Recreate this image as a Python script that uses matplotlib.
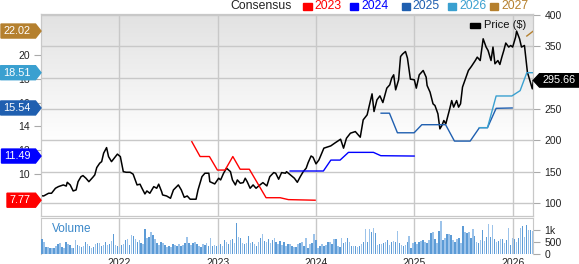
import numpy as np
import matplotlib
matplotlib.use("Agg")
import matplotlib.pyplot as plt
from matplotlib.patches import Polygon, Rectangle
from matplotlib.transforms import IdentityTransform
from matplotlib.colors import LinearSegmentedColormap

plt.rcParams['font.family'] = ['Liberation Sans', 'DejaVu Sans']

# ---------------- data ----------------
price_t = [2021.20, 2021.23, 2021.28, 2021.31, 2021.35, 2021.38, 2021.43, 2021.46, 2021.47, 2021.50,
           2021.53, 2021.56, 2021.58, 2021.61, 2021.63, 2021.66, 2021.69, 2021.73, 2021.75, 2021.77,
           2021.80, 2021.82, 2021.84, 2021.87, 2021.89, 2021.92, 2021.96, 2021.98, 2022.01, 2022.04,
           2022.07, 2022.11, 2022.14, 2022.18, 2022.21, 2022.23, 2022.26, 2022.28, 2022.31, 2022.35,
           2022.38, 2022.40, 2022.43, 2022.44, 2022.48, 2022.52, 2022.55, 2022.60, 2022.63, 2022.66,
           2022.69, 2022.72, 2022.78, 2022.80, 2022.84, 2022.87, 2022.91, 2022.92, 2022.97, 2023.01,
           2023.03, 2023.06, 2023.09, 2023.13, 2023.15, 2023.18, 2023.20, 2023.23, 2023.26, 2023.28,
           2023.30, 2023.33, 2023.36, 2023.39, 2023.43, 2023.46, 2023.50, 2023.53, 2023.57, 2023.59,
           2023.62, 2023.65, 2023.69, 2023.70, 2023.74, 2023.78, 2023.81, 2023.84, 2023.87, 2023.90,
           2023.92, 2023.95, 2023.97, 2024.00, 2024.03, 2024.08, 2024.11, 2024.15, 2024.19, 2024.25,
           2024.28, 2024.31, 2024.35, 2024.40, 2024.45, 2024.48, 2024.52, 2024.54, 2024.57, 2024.59,
           2024.62, 2024.65, 2024.68, 2024.72, 2024.75, 2024.77, 2024.79, 2024.81, 2024.84, 2024.86,
           2024.88, 2024.91, 2024.93, 2024.96, 2025.00, 2025.02, 2025.05, 2025.09, 2025.12, 2025.13,
           2025.16, 2025.19, 2025.21, 2025.24, 2025.26, 2025.28, 2025.30, 2025.32, 2025.36, 2025.38,
           2025.40, 2025.43, 2025.45, 2025.47, 2025.49, 2025.52, 2025.55, 2025.58, 2025.62, 2025.64,
           2025.67, 2025.70, 2025.73, 2025.75, 2025.78, 2025.80, 2025.82, 2025.85, 2025.87, 2025.89,
           2025.91, 2025.93, 2025.96, 2025.98, 2026.00, 2026.03, 2026.04, 2026.07, 2026.09, 2026.12,
           2026.14, 2026.15, 2026.17, 2026.20, 2026.21]
price_v = [111.7, 111.2, 115.5, 115.5, 123.5, 126.1, 128.8, 127.0, 133.0, 128.8,
           119.2, 120.8, 134.0, 142.0, 143.7, 139.5, 134.0, 141.0, 144.8, 156.5,
           163.5, 166.0, 179.5, 188.4, 174.0, 166.0, 174.0, 178.0, 174.0, 150.0,
           149.0, 149.0, 146.0, 128.8, 130.0, 123.5, 114.4, 119.2, 115.5, 126.1,
           123.5, 130.0, 118.1, 112.8, 111.2, 107.5, 120.8, 128.8, 120.8, 109.0,
           111.2, 106.0, 106.0, 120.8, 142.0, 147.5, 147.5, 134.0, 130.4, 139.5,
           136.8, 147.5, 155.5, 150.0, 136.8, 128.8, 136.8, 131.5, 132.5, 139.5,
           134.0, 123.5, 128.8, 123.5, 128.8, 132.5, 127.2, 142.0, 148.5, 147.5,
           137.9, 148.5, 147.5, 150.0, 144.8, 139.5, 133.0, 142.0, 150.0, 155.5,
           164.4, 175.0, 173.0, 162.4, 168.8, 187.5, 189.0, 191.1, 195.5, 201.8,
           187.5, 203.4, 211.4, 214.0, 205.0, 232.7, 240.7, 254.0, 274.2, 246.0,
           264.7, 271.0, 260.3, 283.3, 288.6, 299.3, 304.6, 280.6, 296.6, 333.8,
           337.7, 341.8, 331.3, 297.7, 296.6, 283.3, 304.6, 311.5, 300.9, 287.5,
           276.9, 258.3, 255.5, 242.3, 218.3, 223.6, 231.6, 226.3, 250.3, 263.5,
           253.0, 263.5, 253.0, 258.3, 285.0, 298.2, 311.5, 317.9, 327.4, 332.8,
           327.4, 362.1, 348.9, 343.4, 327.4, 348.9, 322.2, 327.4, 321.1, 332.8,
           343.4, 355.3, 348.9, 351.4, 348.9, 364.8, 374.4, 362.1, 348.9, 351.4,
           322.2, 308.9, 298.2, 282.2, 295.66]

eps23_t = [2022.737, 2022.821, 2022.916, 2022.997, 2023.075, 2023.154, 2023.228, 2023.322,
           2023.492, 2023.635, 2023.719, 2023.991]
eps23_v = [12.70, 11.45, 11.45, 10.31, 10.31, 11.45, 10.38, 10.38, 7.98, 7.98, 7.82, 7.77]

eps24_t = [2023.737, 2024.075, 2024.151, 2024.245, 2024.330, 2024.584, 2024.659, 2024.998]
eps24_v = [10.23, 10.23, 11.15, 11.15, 11.80, 11.80, 11.52, 11.49]

eps25_t = [2024.662, 2024.747, 2024.828, 2024.998, 2025.076, 2025.318, 2025.408, 2025.568,
           2025.662, 2025.744, 2025.832, 2025.995]
eps25_v = [15.10, 15.10, 13.45, 13.45, 14.13, 14.13, 12.75, 12.75, 13.88, 13.88, 15.51, 15.54]

eps26_t = [2025.662, 2025.744, 2025.832, 2025.992, 2026.076, 2026.144, 2026.21]
eps26_v = [13.88, 13.88, 16.55, 16.55, 17.00, 18.51, 18.51]

eps27_t = [2026.144, 2026.21]
eps27_v = [21.60, 22.02]

volume = [607, 494, 282, 254, 212, 212, 240, 325, 381, 424, 282, 240, 494, 381, 353,
          212, 212, 565, 353, 325, 282, 325, 494, 381, 325, 212, 282, 381, 424, 424,
          325, 353, 466, 353, 381, 522, 805, 353, 325, 282, 353, 381, 565, 607, 353,
          777, 748, 607, 466, 565, 424, 381, 1031, 635, 706, 890, 777, 607, 424, 353,
          494, 424, 353, 282, 325, 282, 381, 353, 325, 381, 325, 353, 424, 706, 424,
          353, 424, 494, 381, 325, 282, 381, 353, 424, 325, 635, 325, 353, 325, 353,
          381, 325, 565, 494, 381, 565, 607, 424, 1271, 706, 664, 424, 381, 424, 748,
          424, 494, 381, 325, 494, 635, 805, 522, 466, 607, 424, 565, 635, 494, 381,
          522, 353, 494, 325, 381,
          381, 325, 282, 282, 381, 424, 466, 325, 635, 212, 381, 424, 805, 565, 240,
          325, 381, 325, 353, 466, 494, 381, 607, 607, 325, 282, 664, 424, 466, 635,
          494, 325, 325, 325, 282, 325, 381, 466, 1031, 494, 1031, 918, 1087, 847, 353,
          381, 381, 424, 494, 565, 353, 466, 522, 494, 946, 424, 353, 325, 353, 466,
          748, 212, 424, 494, 381, 494, 522, 565, 494, 424, 565, 847, 918, 607, 424,
          946, 1370, 565, 635, 805, 805, 777, 565, 494, 607, 664, 424, 1172, 890, 847,
          890, 635, 1031, 748, 494, 424, 565, 988, 522, 706, 1228, 706, 1200, 607, 494,
          522, 607, 607, 424, 565, 1087, 353, 664, 607, 494, 635, 1059, 1172, 706, 1200,
          988, 988, 946]

years = [2022, 2023, 2024, 2025, 2026]
price_ticks = [100, 150, 200, 250, 300, 350, 400]
eps_ticks = [10, 12, 14, 16, 18, 20, 22]
vol_ticks = [0, 500, 1000]
vol_labels = ['0', '500', '1k']
legend_years = ['2023', '2024', '2025', '2026', '2027']

# ---------------- style ----------------
c23, c24, c25, c26, c27 = '#ff0000', '#0000ff', '#1f5fb0', '#3aa0d0', '#b5802e'
grid_c = '#c8c8c8'
W, H = 579, 264
fig = plt.figure(figsize=(W / 100, H / 100), dpi=100)


def fx(px):
    return px / W


def fy(py):
    return 1 - py / H


L, R = 41, 533.3
ax = fig.add_axes([fx(L), fy(216), fx(R - L), (216 - 14.3) / H])
axv = fig.add_axes([fx(L), fy(253.5), fx(R - L), (253.5 - 217.5) / H], sharex=ax)

xlim = (2021.203, 2026.21)

# gradient background
grad = np.clip((np.linspace(0, 1, 200) - 0.35) / 0.65, 0, 1).reshape(-1, 1)
cmap = LinearSegmentedColormap.from_list('g', ['#ffffff', '#e2e2e2'])
ax.imshow(grad, extent=[0, 1, 0, 1], transform=ax.transAxes, aspect='auto',
          cmap=cmap, origin='lower', zorder=0, interpolation='bilinear')

# EPS on a twin axis (left side), price on the right side
ax2 = ax.twinx()

ax.plot(price_t, price_v, color='black', lw=1.1, zorder=5)
ax.set_xlim(*xlim)
ax.set_ylim(79.2, 401.2)
ax.yaxis.tick_right()
ax.yaxis.set_label_position('right')
ax.set_yticks(price_ticks)
ax.set_xticks(years)
ax.grid(True, color=grid_c, lw=1, zorder=1)
ax.set_axisbelow(True)
ax.tick_params(axis='y', which='both', left=False, labelleft=False, right=True, labelright=True,
               length=5, color='#aaaaaa', labelsize=7.5, pad=3, labelcolor='#222222')
ax.tick_params(axis='x', length=0, labelbottom=False)
for s in ax.spines.values():
    s.set_color(grid_c)

ax2.plot(eps23_t, eps23_v, color=c23, lw=1.0)
ax2.plot(eps24_t, eps24_v, color=c24, lw=1.0)
ax2.plot(eps25_t, eps25_v, color=c25, lw=1.0)
ax2.plot(eps26_t, eps26_v, color=c26, lw=1.0)
ax2.plot(eps27_t, eps27_v, color=c27, lw=1.0)
ax2.set_ylim(6.44, 23.43)
ax2.set_xlim(*xlim)
ax2.set_yticks(eps_ticks)
ax2.tick_params(axis='y', which='both', left=True, labelleft=True, right=False, labelright=False,
                length=5, color='#aaaaaa', labelsize=7.5, pad=3, labelcolor='#222222')
for s in ax2.spines.values():
    s.set_color(grid_c)

# volume
n = len(volume)
vt = np.linspace(xlim[0] + 0.01, xlim[1] - 0.01, n)
step = vt[1] - vt[0]
vcols = ['#5c9bd6' if i % 2 == 0 else '#9cc3ea' for i in range(n)]
axv.bar(vt, volume, width=step * 0.75, color=vcols, zorder=3)
axv.set_ylim(0, 1517)
axv.set_xlim(*xlim)
axv.yaxis.tick_right()
axv.set_yticks(vol_ticks)
axv.set_yticklabels(vol_labels)
axv.set_xticks(years)
axv.set_xticklabels([str(y) for y in years])
axv.grid(True, axis='x', color=grid_c, lw=1, zorder=1)
axv.set_axisbelow(True)
axv.tick_params(axis='y', length=5, color='#aaaaaa', labelsize=7.5, pad=3, labelcolor='#222222')
axv.tick_params(axis='x', length=0, labelsize=7.5, pad=3, labelcolor='#222222')
for k, s in axv.spines.items():
    s.set_color(grid_c)
axv.spines['bottom'].set_visible(False)
fig.text(fx(51.5), fy(229), 'Volume', color='#3b88c9', fontsize=8.5, va='center', ha='left')

# top legend
fig.text(fx(230), fy(6), 'Consensus', fontsize=8.8, color='#222222', va='center', ha='left')
leg_cols = [c23, c24, c25, c26, c27]
sq_x = [303.3, 350, 401.7, 448, 490]
for xs, col, lab in zip(sq_x, leg_cols, legend_years):
    fig.patches.append(Rectangle((fx(xs), fy(9.5)), 8.3 / W, 7 / H, color=col,
                                 transform=fig.transFigure, figure=fig))
    fig.text(fx(xs + 11), fy(6), lab, fontsize=8.8, color=col, va='center', ha='left')

# price legend
fig.patches.append(Rectangle((fx(470), fy(27.5)), 9.5 / W, 4.5 / H, color='black',
                             transform=fig.transFigure, figure=fig))
fig.text(fx(484), fy(25.5), 'Price ($)', fontsize=8, color='#111111', va='center', ha='left')

# badges
fig.canvas.draw()
renderer = fig.canvas.get_renderer()
idt = IdentityTransform()


def left_badge(val, col):
    yc = ax2.transData.transform((2022, val))[1]
    t = fig.text(31, yc, f'{val:.2f}', transform=idt, color='white', fontsize=7.8,
                 ha='right', va='center', zorder=11)
    bb = t.get_window_extent(renderer)
    x0 = bb.x0 - 3
    poly = Polygon([(x0, yc - 7), (35.5, yc - 7), (41, yc), (35.5, yc + 7), (x0, yc + 7)],
                   closed=True, color=col, transform=idt, zorder=10)
    fig.patches.append(poly)


left_badge(eps27_v[-1], c27)
left_badge(eps26_v[-1], c26)
left_badge(eps25_v[-1], c25)
left_badge(eps24_v[-1], c24)
left_badge(eps23_v[-1], c23)

yc = ax.transData.transform((2026, price_v[-1]))[1]
fig.patches.append(Polygon([(533.3, yc), (539.5, yc + 6.7), (579, yc + 6.7), (579, yc - 6.7),
                            (539.5, yc - 6.7)], closed=True, color='black', transform=idt, zorder=10))
fig.text(559, yc, f'{price_v[-1]:.2f}', transform=idt, color='white', fontsize=7.8,
         ha='center', va='center', zorder=11)

fig.savefig('out.png', dpi=100)
